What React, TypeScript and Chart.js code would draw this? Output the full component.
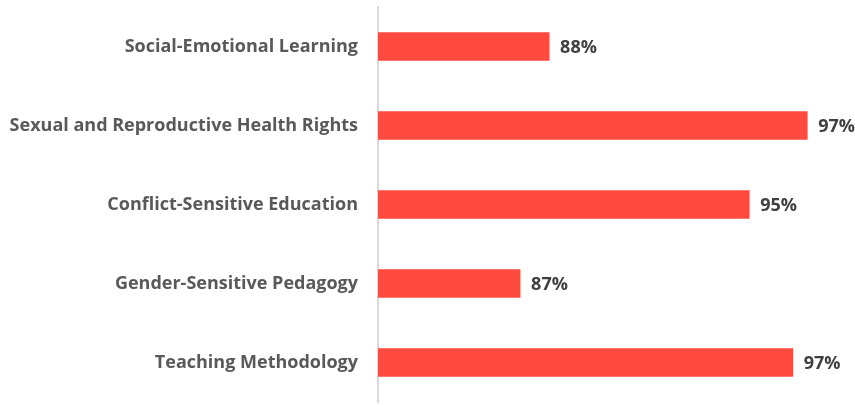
import React, { useEffect, useRef } from "react";
import { Chart, registerables } from "chart.js";

Chart.register(...registerables);

const categories = [
  "Social-Emotional Learning",
  "Sexual and Reproductive Health Rights",
  "Conflict-Sensitive Education",
  "Gender-Sensitive Pedagogy",
  "Teaching Methodology",
];
const values = [88.2, 97.1, 95.1, 87.2, 96.6];
const axisMin = 82.3;
const axisMax = 98.3;

const FONT = "'Open Sans', sans-serif";

const valueLabelPlugin = {
  id: "valueLabels",
  afterDatasetsDraw(chart: any) {
    const ctx = chart.ctx;
    const meta = chart.getDatasetMeta(0);
    ctx.save();
    ctx.font = `bold 18px ${FONT}`;
    ctx.fillStyle = "#404040";
    ctx.textAlign = "left";
    ctx.textBaseline = "middle";
    meta.data.forEach((bar: any, i: number) => {
      ctx.fillText(Math.round(values[i]) + "%", bar.x + 11, bar.y + 1);
    });
    ctx.restore();
  },
};

export default function App() {
  const ref = useRef<HTMLCanvasElement | null>(null);
  useEffect(() => {
    if (!ref.current) return;
    const chart = new Chart(ref.current, {
      type: "bar",
      data: {
        labels: categories,
        datasets: [
          {
            data: values,
            backgroundColor: "#FF4A40",
            barThickness: 28,
          },
        ],
      },
      options: {
        indexAxis: "y",
        animation: false,
        responsive: false,
        maintainAspectRatio: false,
        layout: { padding: { top: 7, bottom: 3, right: 13, left: 0 } },
        plugins: { legend: { display: false }, tooltip: { enabled: false } },
        scales: {
          x: { display: false, min: axisMin, max: axisMax },
          y: {
            afterFit(scale: any) {
              scale.width = 378;
              scale.paddingTop = 0;
              scale.paddingBottom = 0;
            },
            grid: { display: false, drawTicks: false },
            border: { display: true, color: "#d9d9d9", width: 2 },
            ticks: {
              padding: 20,
              color: "#595959",
              font: { family: FONT, size: 18, weight: "bold" },
            },
          },
        },
      },
      plugins: [valueLabelPlugin],
    });
    return () => chart.destroy();
  }, []);
  return (
    <div style={{ position: "fixed", left: 0, top: 0, width: 855, height: 405, background: "#fff" }}>
      <canvas ref={ref} width={855} height={405} />
    </div>
  );
}
